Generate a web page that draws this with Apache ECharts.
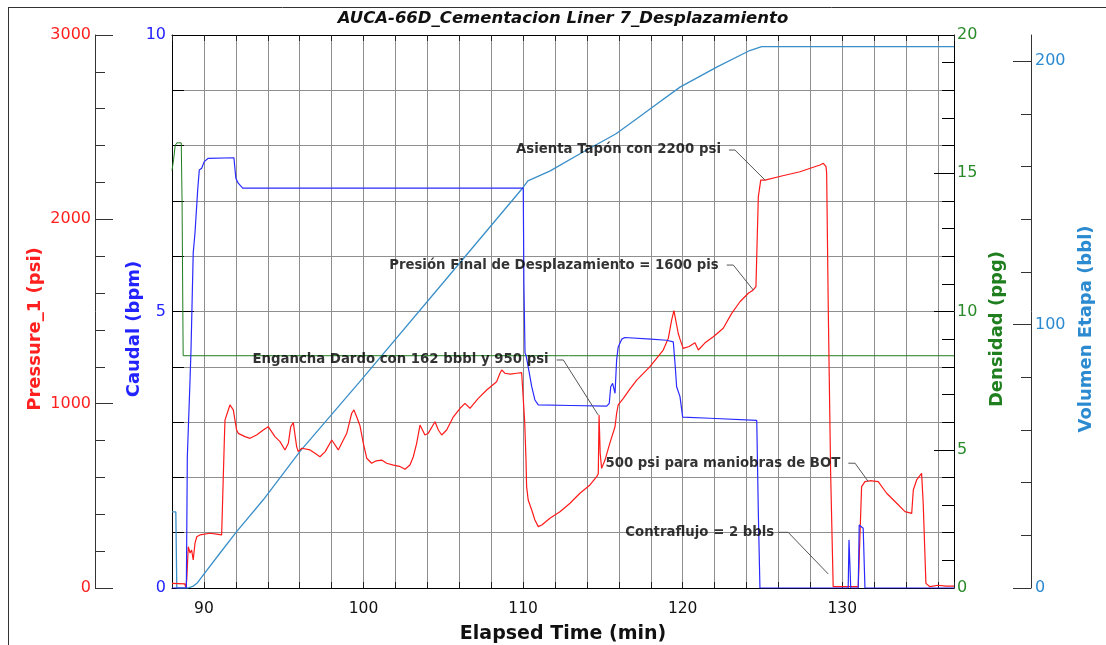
<!DOCTYPE html>
<html><head><meta charset="utf-8">
<script src="https://cdn.jsdelivr.net/npm/echarts@6/dist/echarts.min.js"></script>
<style>html,body{margin:0;padding:0;background:#fff}#c{width:1106px;height:645px}</style>
</head><body><div id="c"></div>
<script>
const titleText = 'AUCA-66D_Cementacion Liner 7_Desplazamiento';
const xTickLabels = [90, 100, 110, 120, 130];
const volumeTickLabels = [0, 100, 200];
const volumeMinorTicks = [20, 40, 60, 80, 120, 140, 160, 180];

// [elapsed time (min), value]
const pressureData = [
[88.0,25],[88.8,22],[88.86,5],[88.92,40],[89.02,224],[89.13,190],[89.23,206],[89.33,152],[89.44,242],[89.55,278],[89.75,288],[90.38,297],[90.8,292],[91.11,288],[91.18,290],[91.28,803],[91.32,911],[91.43,920],[91.63,993],[91.70,998],[91.84,966],[92.05,857],[92.15,839],[92.57,821],[92.89,812],[93.3,830],[93.72,857],[94.03,875],[94.45,821],[94.77,794],[95.08,749],[95.19,740],[95.29,785],[95.44,875],[95.60,897],[95.81,767],[95.91,740],[96.13,758],[96.65,749],[96.96,731],[97.27,712],[97.6,740],[98.01,803],[98.11,812],[98.42,749],[98.95,839],[99.26,948],[99.40,966],[99.57,929],[99.78,880],[99.99,785],[100.20,704],[100.51,677],[100.8,690],[101.14,694],[101.45,677],[101.87,667],[102.25,660],[102.60,644],[102.91,667],[103.12,712],[103.33,785],[103.54,884],[103.85,830],[104.06,840],[104.48,902],[104.69,857],[104.90,830],[105.21,857],[105.63,929],[106.05,975],[106.36,1002],[106.67,975],[107.19,1029],[107.72,1074],[108.34,1119],[108.55,1165],[108.66,1183],[108.86,1165],[109.2,1160],[109.60,1165],[109.91,1168],[110.01,1165],[110.10,900],[110.18,700],[110.22,550],[110.32,477],[110.54,423],[110.74,369],[110.95,333],[111.17,342],[111.68,378],[112.31,414],[112.94,460],[113.56,514],[114.19,559],[114.61,604],[114.71,620],[114.76,939],[114.83,731],[114.92,649],[115.13,694],[115.45,790],[115.76,875],[115.86,948],[115.96,993],[116.28,1029],[116.7,1080],[117.12,1128],[117.95,1201],[118.78,1291],[119.10,1355],[119.31,1454],[119.45,1505],[119.72,1382],[119.83,1350],[120.03,1300],[120.4,1310],[120.77,1330],[120.98,1291],[121.4,1330],[121.92,1363],[122.54,1409],[123.07,1490],[123.59,1553],[124.11,1599],[124.42,1617],[124.59,1635],[124.67,1900],[124.74,2123],[124.89,2213],[125.16,2213],[126.2,2235],[127.35,2258],[128.60,2295],[128.81,2304],[128.98,2286],[129.02,2250],[129.12,1526],[129.27,622],[129.43,7],[131.00,7],[131.21,550],[131.42,577],[131.73,582],[132.25,577],[132.78,514],[133.41,460],[133.93,414],[134.35,405],[134.45,532],[134.66,586],[134.97,622],[135.07,460],[135.24,25],[135.49,7],[136.0,15],[136.5,10],[137,10]
];
const caudalData = [
[88.0,0],[88.9,0],[88.96,2.37],[89.13,3.76],[89.19,4.3],[89.33,6.06],[89.44,6.42],[89.61,7.2],[89.71,7.56],[89.86,7.59],[90.02,7.71],[90.27,7.77],[91.88,7.78],[92.0,7.41],[92.15,7.32],[92.43,7.23],[110.01,7.23],[110.05,5.5],[110.12,4.25],[110.18,4.21],[110.32,4.0],[110.54,3.64],[110.74,3.40],[110.95,3.31],[113.0,3.3],[115.24,3.29],[115.40,3.34],[115.49,3.64],[115.61,3.70],[115.69,3.73],[115.76,3.52],[115.86,4.12],[115.96,4.36],[116.18,4.5],[116.38,4.53],[118.0,4.5],[118.99,4.48],[119.41,4.45],[119.52,4.06],[119.62,3.64],[119.83,3.46],[120.0,3.09],[121.71,3.07],[124.64,3.03],[124.74,1.35],[124.84,0],[130.37,0],[130.42,0.87],[130.53,0],[131.0,0],[131.06,1.14],[131.31,1.08],[131.42,0],[137,0]
];
const densidadData = [
[88.0,15.1],[88.1,15.5],[88.2,16.0],[88.3,16.1],[88.58,16.1],[88.63,14.0],[88.7,8.4],[137,8.4]
];
const volumenData = [
[88.0,28.9],[88.24,28.9],[88.3,0],[89.0,0],[89.3,0.6],[89.6,2.0],[90.0,5.3],[91.0,13.2],[92.05,21.4],[93.72,33.5],[96.02,51.9],[99.89,79.2],[105,116.0],[110.0,152.1],[110.3,154.6],[111.7,158.4],[113.7,165.4],[115.8,172.4],[117.1,178.1],[117.95,181.9],[119.83,190.2],[122.13,197.8],[124.2,204.1],[124.95,205.6],[137,205.6]
];

// annotations: text, leader polyline in (time, psi)
const annotationTexts = [
  'Asienta Tapón con 2200 psi',
  'Presión Final de Desplazamiento = 1600 pis',
  'Engancha Dardo con 162 bbbl y 950 psi',
  '500 psi para maniobras de BOT',
  'Contraflujo = 2 bbls'
];
const annotationLeaders = [
  [[122.90,2376],[123.27,2376],[125.16,2213]],
  [[122.76,1752],[123.17,1752],[124.42,1617]],
  [[112.10,1237],[112.52,1237],[114.70,939]],
  [[130.38,677],[130.80,677],[131.63,577]],
  [[125.99,302],[126.61,302],[129.12,76]]
];
const annotationGaps = [8, 8, 8, 8, 4];

const FONT = 'DejaVu Sans';
const GRID_COLOR = '#8f8f8f';
const RED = '#ff1f1f', BLUE = '#2323ff', GREEN = '#2a8a2a', STEEL = '#2b8ad0';

const chart = echarts.init(document.getElementById('c'), null, {renderer: 'canvas'});

const leaderSeries = annotationLeaders.map(pts => ({
  type: 'line', xAxisIndex: 0, yAxisIndex: 0, data: pts, showSymbol: false, silent: true,
  lineStyle: {color: '#555', width: 1}, z: 5
}));
const labelSeries = {
  type: 'scatter', xAxisIndex: 0, yAxisIndex: 0, symbolSize: 0, silent: true, z: 6,
  data: annotationTexts.map((t, i) => ({
    value: annotationLeaders[i][0],
    label: {show: true, position: 'left', distance: annotationGaps[i], formatter: t}
  })),
  label: {show: true, color: '#000', fontFamily: FONT, fontWeight: 'bold', fontSize: 13.3}
};

const option = {
  animation: false,
  backgroundColor: '#fff',
  grid: {left: 172, right: 152, top: 35, bottom: 57, outerBoundsMode: 'none', containLabel: false},
  graphic: [
    {type: 'line', shape: {x1: 8, y1: 7.5, x2: 1106, y2: 7.5}, style: {stroke: '#333', lineWidth: 1}},
    {type: 'line', shape: {x1: 8.5, y1: 7, x2: 8.5, y2: 645}, style: {stroke: '#333', lineWidth: 1}},
    {type: 'text', x: 563, y: 19, style: {text: titleText, textAlign: 'center', textVerticalAlign: 'middle',
      font: 'italic bold 16.5px "DejaVu Sans"', fill: '#111'}}
  ],
  xAxis: [
    {type: 'value', min: 88, max: 137, interval: 2, position: 'bottom',
     axisLine: {show: true, onZero: false, lineStyle: {color: '#000', width: 1}},
     axisTick: {show: true, inside: true, length: 6, lineStyle: {color: '#222'}},
     axisLabel: {color: '#111', fontSize: 15.5, fontFamily: FONT, margin: 13,
       formatter: v => xTickLabels.includes(v) ? String(v) : ''},
     splitLine: {show: true, lineStyle: {color: GRID_COLOR, width: 1}},
     name: 'Elapsed Time (min)', nameLocation: 'middle', nameGap: 37, nameMoveOverlap: false,
     nameTextStyle: {fontSize: 19, fontWeight: 'bold', color: '#111', fontFamily: FONT}},
    {type: 'value', min: 88, max: 137, interval: 2, position: 'top',
     axisLine: {show: true, onZero: false, lineStyle: {color: '#000', width: 1}},
     axisTick: {show: true, inside: true, length: 6, lineStyle: {color: '#222'}},
     axisLabel: {show: false}, splitLine: {show: false}}
  ],
  yAxis: [
    {type: 'value', position: 'left', offset: 77, min: 0, max: 3000, interval: 1000,
     axisLine: {show: true, lineStyle: {color: '#333'}},
     axisTick: {show: true, inside: true, length: 18, lineStyle: {color: '#333'}},
     minorTick: {show: true, splitNumber: 5, length: 10, lineStyle: {color: '#333'}},
     axisLabel: {color: RED, fontSize: 16, fontFamily: FONT, margin: 4, formatter: v => String(v)},
     splitLine: {show: false},
     name: 'Pressure_1 (psi)', nameLocation: 'middle', nameRotate: 90, nameGap: 51, nameMoveOverlap: false,
     nameTextStyle: {color: RED, fontSize: 18, fontWeight: 'bold', fontFamily: FONT, padding: [0, 35, 0, 0]}},
    {type: 'value', position: 'left', offset: 0, min: 0, max: 10, interval: 5,
     axisLine: {show: true, lineStyle: {color: '#000'}},
     axisTick: {show: true, inside: true, length: 22, lineStyle: {color: '#000'}},
     minorTick: {show: true, splitNumber: 5, length: 12, lineStyle: {color: '#000'}},
     axisLabel: {color: BLUE, fontSize: 16, fontFamily: FONT, margin: 6},
     splitLine: {show: true, lineStyle: {color: GRID_COLOR, width: 1}},
     minorSplitLine: {show: true, lineStyle: {color: GRID_COLOR, width: 1}},
     name: 'Caudal (bpm)', nameLocation: 'middle', nameRotate: 90, nameGap: 29, nameMoveOverlap: false,
     nameTextStyle: {color: BLUE, fontSize: 18, fontWeight: 'bold', fontFamily: FONT, padding: [0, 35, 0, 0]}},
    {type: 'value', position: 'right', offset: 0, min: 0, max: 20, interval: 5,
     axisLine: {show: true, lineStyle: {color: '#000'}},
     axisTick: {show: true, inside: true, length: 20, lineStyle: {color: '#000'}},
     minorTick: {show: true, splitNumber: 5, length: 12, lineStyle: {color: '#000'}},
     axisLabel: {color: GREEN, fontSize: 16, fontFamily: FONT, margin: 3},
     splitLine: {show: false},
     name: 'Densidad (ppg)', nameLocation: 'middle', nameRotate: 90, nameGap: 34, nameMoveOverlap: false,
     nameTextStyle: {color: '#1f7f1f', fontSize: 18, fontWeight: 'bold', fontFamily: FONT, padding: [0, 35, 0, 0]}},
    {type: 'value', position: 'right', offset: 77, min: 0, max: 210,
     axisLine: {show: true, lineStyle: {color: '#333'}},
     axisTick: {show: true, inside: true, length: 18, customValues: volumeTickLabels, lineStyle: {color: '#333'}},
     axisLabel: {color: STEEL, fontSize: 16, fontFamily: FONT, margin: 4, customValues: volumeTickLabels},
     splitLine: {show: false},
     name: 'Volumen Etapa (bbl)', nameLocation: 'middle', nameRotate: 90, nameGap: 46, nameMoveOverlap: false,
     nameTextStyle: {color: STEEL, fontSize: 18, fontWeight: 'bold', fontFamily: FONT, padding: [0, 35, 0, 0]}},
    {type: 'value', position: 'right', offset: 77, min: 0, max: 210,
     axisLine: {show: false},
     axisTick: {show: true, inside: true, length: 10, customValues: volumeMinorTicks, lineStyle: {color: '#333'}},
     axisLabel: {show: false}, splitLine: {show: false}}
  ],
  series: [
    {name: 'Volumen Etapa', type: 'line', xAxisIndex: 0, yAxisIndex: 3, data: volumenData, showSymbol: false,
     lineStyle: {color: '#3a8fc8', width: 1.3}, z: 2},
    {name: 'Densidad', type: 'line', xAxisIndex: 0, yAxisIndex: 2, data: densidadData, showSymbol: false,
     lineStyle: {color: '#1e7e1e', width: 1}, z: 2},
    {name: 'Pressure_1', type: 'line', xAxisIndex: 0, yAxisIndex: 0, data: pressureData, showSymbol: false,
     lineStyle: {color: '#ff1a1a', width: 1.2}, z: 3},
    {name: 'Caudal', type: 'line', xAxisIndex: 0, yAxisIndex: 1, data: caudalData, showSymbol: false,
     lineStyle: {color: '#2a2aff', width: 1.2}, z: 4},
    ...leaderSeries,
    labelSeries
  ]
};
chart.setOption(option);
</script></body></html>
